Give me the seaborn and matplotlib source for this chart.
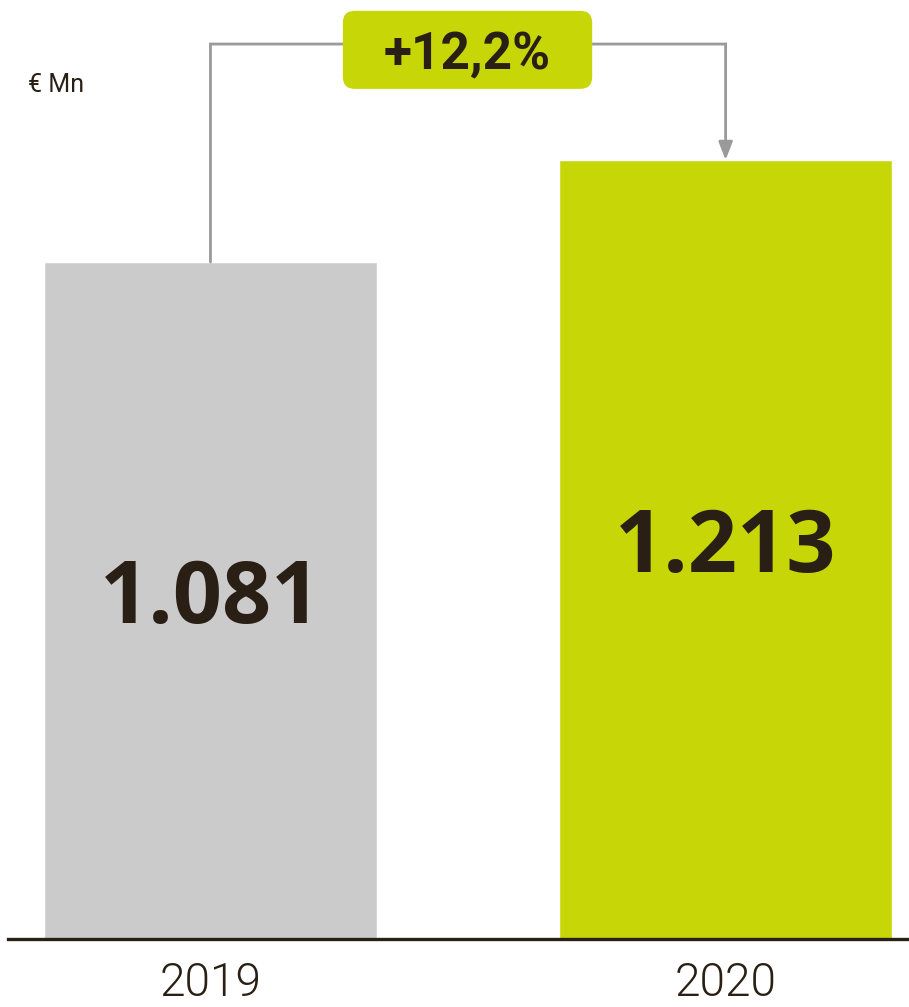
import matplotlib
matplotlib.use("Agg")
import matplotlib.pyplot as plt
from matplotlib.patches import FancyBboxPatch
import seaborn as sns
import pandas as pd

# Revenue by year, € millions
years = ["2019", "2020"]
values = [1081, 1213]
bar_colors = ["#cbcbcb", "#c6d606"]
unit_label = "€ Mn"

TEXT = "#2a1f14"
LINE = "#9a9a9a"

sns.set_theme(style="white")
plt.rcParams["font.family"] = ["Roboto", "DejaVu Sans"]

df = pd.DataFrame({"year": years, "value": values})

W, H = 909, 1007
fig = plt.figure(figsize=(W / 100, H / 100), dpi=100)
ax = fig.add_axes([8 / W, 68 / H, 1 - 8 / W, 939 / H])

sns.barplot(data=df, x="year", y="value", hue="year", palette=bar_colors,
            width=0.647, saturation=1, legend=False, ax=ax)

y_lo, y_hi = 205, 1420
ax.set_ylim(y_lo, y_hi)
ax.set_xlim(-0.393, 1.356)

for s in ["top", "left", "right"]:
    ax.spines[s].set_visible(False)
ax.spines["bottom"].set_color(TEXT)
ax.spines["bottom"].set_linewidth(2.4)
ax.set_yticks([])
ax.set_xlabel("")
ax.set_ylabel("")
ax.tick_params(axis="x", length=0, pad=16, labelsize=33, labelcolor=TEXT)
for lab in ax.get_xticklabels():
    lab.set_fontweight(300)

# value labels centred in each bar
for i, v in enumerate(values):
    ax.text(i, (y_lo + v) / 2, f"{v:,}".replace(",", "."), ha="center", va="center",
            fontsize=62, fontweight="bold", color=TEXT, family=["Open Sans", "DejaVu Sans"])

# growth connector between the two bars
level = 1363
box_x0, box_x1 = 0.257, 0.741
box_y0, box_y1 = 1305, 1406
ax.plot([0, 0, box_x0], [values[0], level, level], color=LINE, lw=2,
        solid_joinstyle="miter", snap=False)
ax.plot([box_x1, 1], [level, level], color=LINE, lw=2,
        solid_capstyle="projecting", snap=False)
arrow = ax.annotate("", xy=(1, values[1]), xytext=(1, level),
                    arrowprops=dict(arrowstyle="-|>,head_length=0.9,head_width=0.35",
                                    color=LINE, lw=2, shrinkA=0, shrinkB=0))
arrow.arrow_patch.set_snap(False)

# rounded label box; rounding expressed in x units, scaled for the y axis
px_x = 1 / 515       # data-x per pixel
px_y = 1 / 0.7727    # data-y per pixel
box = FancyBboxPatch((box_x0, box_y0), box_x1 - box_x0, box_y1 - box_y0,
                     boxstyle=f"round,pad=0,rounding_size={12 * px_x}",
                     mutation_aspect=px_y / px_x,
                     facecolor=bar_colors[1], edgecolor="none", zorder=3)
ax.add_patch(box)
growth = (values[1] / values[0] - 1) * 100
ax.text((box_x0 + box_x1) / 2, (box_y0 + box_y1) / 2 - 6 * px_y,
        f"+{growth:.1f}%".replace(".", ","), ha="center", va="center",
        fontsize=37, fontweight="bold", color=TEXT, zorder=4)

fig.text(28 / W, 1 - 85 / H, unit_label, ha="left", va="center",
         fontsize=18, color=TEXT)

fig.savefig("out.png", dpi=100)
